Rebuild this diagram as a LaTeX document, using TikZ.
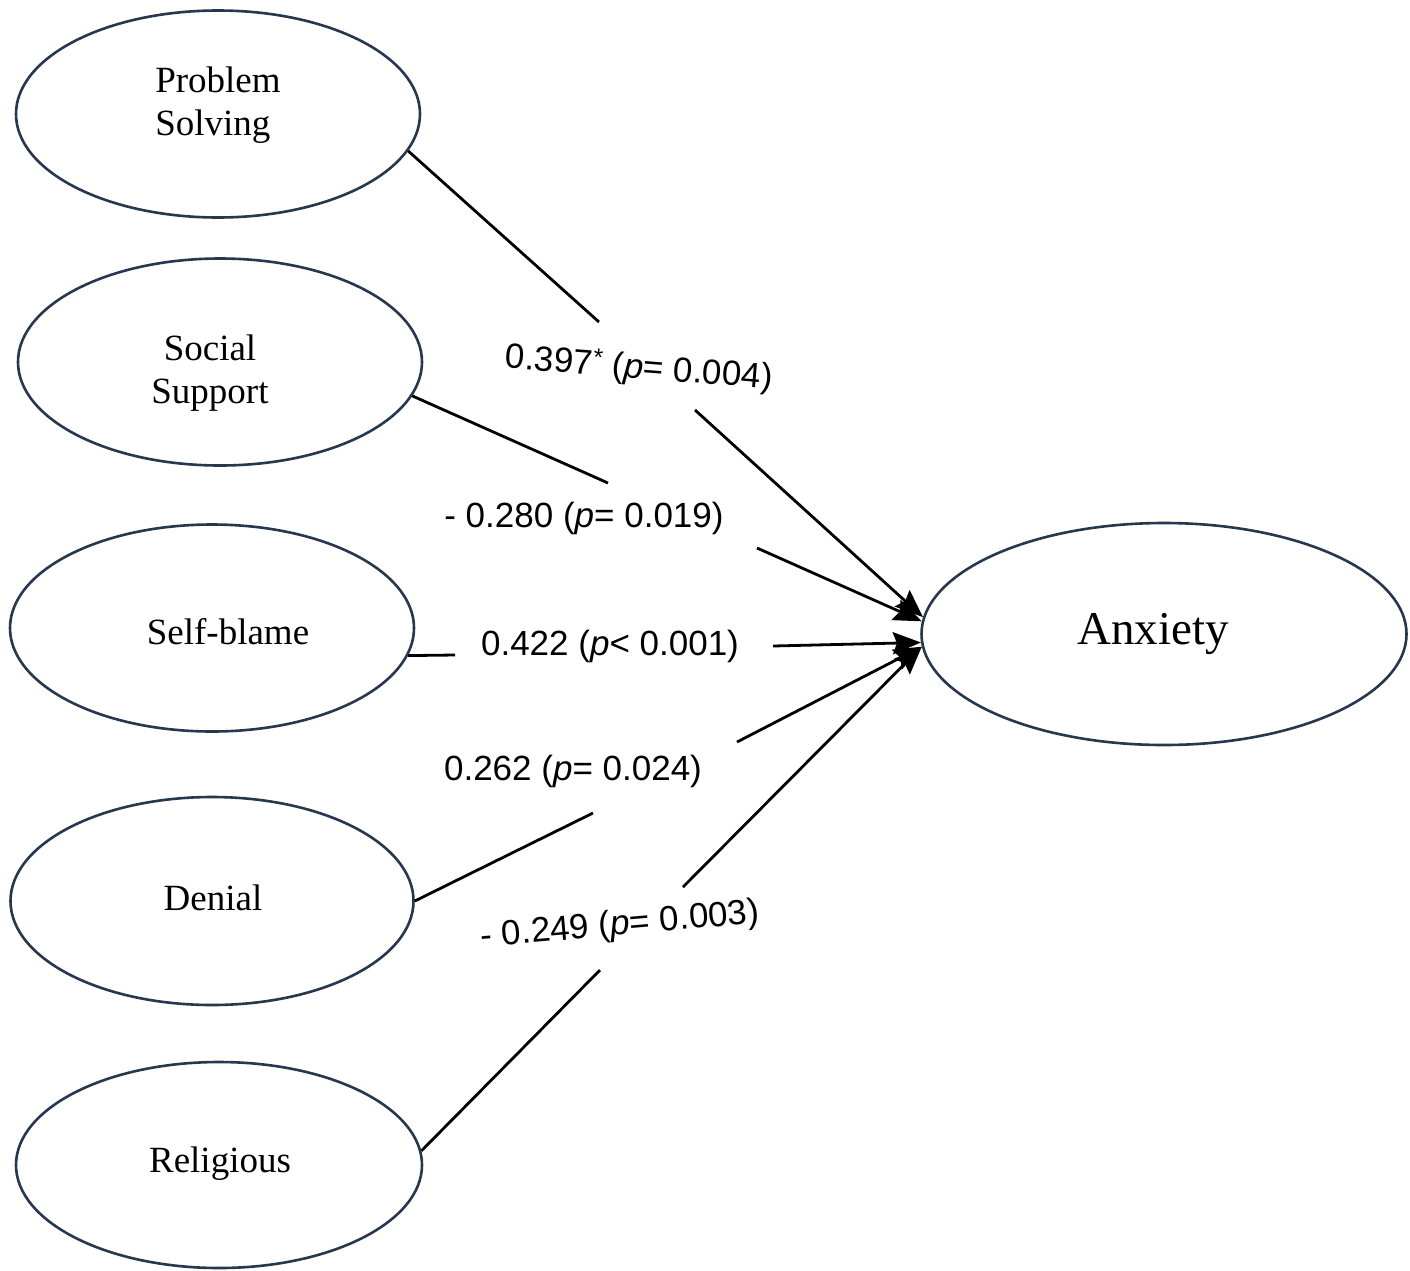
\documentclass[tikz,border=0pt]{standalone}
\usepackage{fontspec}
\setmainfont{Liberation Serif}
\newfontfamily\labfont{Liberation Sans}
\usetikzlibrary{arrows.meta,shapes.geometric}
\definecolor{edgeblue}{RGB}{38,55,78}
\begin{document}
\begin{tikzpicture}[x=1pt,y=-1pt,
  var/.style={ellipse, draw=edgeblue, line width=2.6pt, inner sep=0pt},
  vtext/.style={inner sep=0pt, font=\fontsize{37}{43}\selectfont},
  lab/.style={font=\labfont\fontsize{35}{40}\selectfont, inner sep=0pt},
  conn/.style={line width=2.8pt, black},
  arr/.style={conn, -{Stealth[length=28pt,width=22pt,inset=4pt]}}
]
\useasboundingbox (0,0) rectangle (1410,1270);
\fill[white] (0,0) rectangle (1410,1270);

% variables (ellipses)
\node[var, minimum width=404pt, minimum height=207pt] (ps) at (218,114) {};
\node[var, minimum width=404pt, minimum height=207pt] (ss) at (220,362) {};
\node[var, minimum width=404pt, minimum height=207pt] (sb) at (212,628) {};
\node[var, minimum width=403pt, minimum height=208pt] (dn) at (212,901) {};
\node[var, minimum width=406pt, minimum height=206pt] (rl) at (219,1165) {};
\node[var, minimum width=485pt, minimum height=222pt] (ax) at (1164,634) {};

% variable names
\node[vtext, align=left] (pst) at (218,105) {Problem\\Solving};
\node[vtext, align=center] (sst) at (210,373) {Social\\Support};
\node[vtext] (sbt) at (228,632) {Self-blame};
\node[vtext] (dnt) at (213,898) {Denial};
\node[vtext] (rlt) at (220,1164) {Religious};
\node[vtext, font=\fontsize{47}{52}\selectfont] (axt) at (1153,634) {Anxiety};

% labels
\node[lab, rotate=-4.5] (l1) at (639,369) {0.397\textsuperscript{*} (\textit{p}= 0.004)};
\node[lab] (l2) at (584,518) {- 0.280 (\textit{p}= 0.019)};
\node[lab] (l3) at (610,646) {0.422 (\textit{p}< 0.001)};
\node[lab] (l4) at (573,771) {0.262 (\textit{p}= 0.024)};
\node[lab, rotate=5] (l5) at (620,926) {- 0.249 (\textit{p}= 0.003)};

% gap ends
\coordinate (a1) at (599,322); \coordinate (b1) at (695,410);
\coordinate (a2) at (608,483); \coordinate (b2) at (757,548);
\coordinate (a3) at (455,655); \coordinate (b3) at (773,646);
\coordinate (a4) at (593,813); \coordinate (b4) at (737,742);
\coordinate (a5) at (600,970); \coordinate (b5) at (683,887);

% connectors
\draw[conn] (ps.-11) -- (a1);  \draw[arr] (b1) -- (ax.176.3);
\draw[conn] (ss.-10.7) -- (a2); \draw[arr] (b2) -- (ax.177.2);
\draw[conn] (sb.-8.2) -- (a3); \draw[arr] (b3) -- (ax.182.5);
\draw[conn] (dn.-0.6) -- (a4); \draw[arr] (b4) -- (ax.183.2);
\draw[conn] (rl.4.3) -- (a5);  \draw[arr] (b5) -- (ax.183.8);
\end{tikzpicture}
\end{document}
